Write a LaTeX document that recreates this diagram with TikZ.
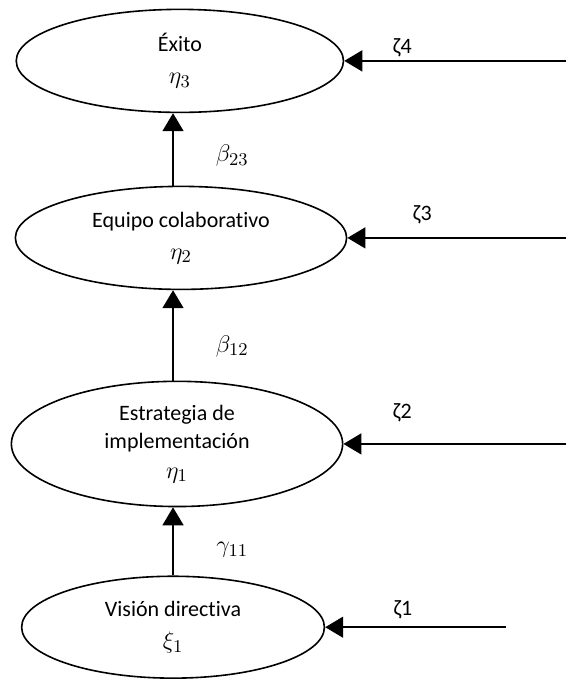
\documentclass[tikz,border=0pt]{standalone}
\usepackage{fontspec}
\setmainfont{Carlito}[Ligatures=NoCommon]
\usetikzlibrary{shapes.geometric,arrows.meta}

\newcommand\mvar[1]{{\fontsize{13}{15}\selectfont$#1$}}

\tikzset{
	latent/.style={draw, ellipse, line width=0.8pt, inner sep=0pt, align=center, font=\fontsize{11}{14}\selectfont},
	arr/.style={line width=0.8pt, -{Triangle[length=9pt,width=10.5pt]}},
	lbl/.style={font=\fontsize{11}{14}\selectfont}
}

\begin{document}
\begin{tikzpicture}
\useasboundingbox (0,0) rectangle (9.95,11.93);

\node[latent, minimum width=5.75cm, minimum height=1.81cm] (exito) at (3.16,10.86) {Éxito\\[2pt]\mvar{\eta_3}};
\node[latent, minimum width=5.82cm, minimum height=1.81cm] (equipo) at (3.18,7.75) {Equipo colaborativo\\[2pt]\mvar{\eta_2}};
\node[latent, minimum width=5.82cm, minimum height=2.20cm] (estrategia) at (3.11,4.13) {Estrategia de\\implementación\\[1pt]\mvar{\eta_1}};
\node[latent, minimum width=5.32cm, minimum height=1.79cm] (vision) at (3.04,0.91) {Visión directiva\\[2pt]\mvar{\xi_1}};

\draw[arr] (vision.north) -- (vision.north |- estrategia.south);
\draw[arr] (estrategia.north -| vision.north) -- (vision.north |- equipo.south);
\draw[arr] (equipo.north -| vision.north) -- (vision.north |- exito.south);

\node[lbl] (g11) at (4.08,2.27) {\mvar{\gamma_{11}}};
\node[lbl] (b12) at (4.08,5.85) {\mvar{\beta_{12}}};
\node[lbl] (b23) at (4.08,9.19) {\mvar{\beta_{23}}};

\coordinate (z4) at (9.95,10.86);
\coordinate (z3) at (9.95,7.75);
\coordinate (z2) at (9.95,4.13);
\coordinate (z1) at (8.89,0.91);

\draw[arr] (z4) -- (exito.east);
\draw[arr] (z3) -- (equipo.east);
\draw[arr] (z2) -- (estrategia.east);
\draw[arr] (z1) -- (vision.east);

\node[lbl] (l4) at (7.07,11.09) {ζ4};
\node[lbl] (l3) at (7.42,8.15) {ζ3};
\node[lbl] (l2) at (7.07,4.68) {ζ2};
\node[lbl] (l1) at (7.08,1.21) {ζ1};
\end{tikzpicture}
\end{document}
